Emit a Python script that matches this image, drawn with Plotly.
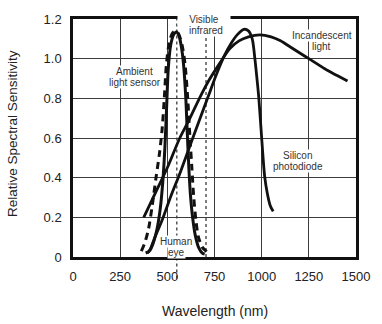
import plotly.graph_objects as go

# ---------------- data ----------------
X_TICKS = [0, 250, 500, 750, 1000, 1250, 1500]
Y_TICKS = [0, 0.2, 0.4, 0.6, 0.8, 1.0, 1.2]
Y_TICK_TEXT = ["0", "0.2", "0.4", "0.6", "0.8", "1.0", "1.2"]

HUMAN_EYE_NM = [385, 405, 425, 445, 462, 476, 487, 496, 505, 518, 533, 548,
                562, 576, 586, 598, 606, 614, 622, 634, 648, 665, 685, 698]
HUMAN_EYE = [0.02, 0.03, 0.07, 0.14, 0.24, 0.38, 0.55, 0.75, 0.95, 1.07, 1.12, 1.135,
             1.115, 1.05, 0.97, 0.80, 0.62, 0.45, 0.32, 0.20, 0.11, 0.05, 0.02, 0.015]

AMBIENT_NM = [362, 380, 400, 420, 440, 458, 472, 484, 495, 510, 528, 545,
              562, 580, 594, 608, 620, 630, 640, 652, 665, 685, 705, 715]
AMBIENT = [0.03, 0.07, 0.14, 0.26, 0.40, 0.52, 0.64, 0.80, 0.97, 1.08, 1.13, 1.14,
           1.12, 1.06, 0.97, 0.80, 0.60, 0.45, 0.30, 0.18, 0.10, 0.05, 0.03, 0.02]

INCANDESCENT_NM = [375, 450, 500, 566, 620, 670, 720, 780, 830, 880, 930, 990,
                   1050, 1100, 1150, 1200, 1250, 1300, 1350, 1400, 1455]
INCANDESCENT = [0.20, 0.35, 0.45, 0.60, 0.70, 0.80, 0.89, 0.98, 1.05, 1.09, 1.11, 1.12,
                1.11, 1.09, 1.06, 1.03, 1.00, 0.97, 0.94, 0.915, 0.887]

SILICON_NM = [395, 410, 430, 470, 520, 570, 635, 713, 760, 800, 840, 870, 905,
              930, 950, 964, 975, 985, 1000, 1016, 1030, 1045, 1061]
SILICON = [0.02, 0.04, 0.09, 0.18, 0.31, 0.43, 0.60, 0.80, 0.92, 1.01, 1.08, 1.12, 1.148,
           1.14, 1.10, 1.00, 0.90, 0.80, 0.60, 0.405, 0.32, 0.26, 0.23]

PHOTOPIC_PEAK = 550
VISIBLE_IR_EDGE = 705
X_MAX = 1500
Y_MAX = 1.2

FONT = "Liberation Sans, Arial, Helvetica, sans-serif"
TXT = "#333333"
LINE = "#111111"

fig = go.Figure()

fig.add_trace(go.Scatter(x=INCANDESCENT_NM, y=INCANDESCENT, mode="lines",
                         line=dict(color=LINE, width=2.8, shape="spline", smoothing=0.8),
                         showlegend=False, hoverinfo="skip"))
fig.add_trace(go.Scatter(x=SILICON_NM, y=SILICON, mode="lines",
                         line=dict(color=LINE, width=2.8, shape="spline", smoothing=0.8),
                         showlegend=False, hoverinfo="skip"))
fig.add_trace(go.Scatter(x=AMBIENT_NM, y=AMBIENT, mode="lines",
                         line=dict(color=LINE, width=3, dash="7px,5px", shape="spline", smoothing=0.8),
                         showlegend=False, hoverinfo="skip"))
fig.add_trace(go.Scatter(x=HUMAN_EYE_NM, y=HUMAN_EYE, mode="lines",
                         line=dict(color=LINE, width=3, shape="spline", smoothing=0.8),
                         showlegend=False, hoverinfo="skip"))
# photopic peak marker below the axis
fig.add_trace(go.Scatter(x=[PHOTOPIC_PEAK], y=[-0.17], mode="markers",
                         marker=dict(symbol="triangle-up", size=9, color="#111111"),
                         cliponaxis=False, showlegend=False, hoverinfo="skip"))

# dotted reference lines
fig.add_shape(type="line", xref="paper", yref="paper",
              x0=PHOTOPIC_PEAK / X_MAX, x1=PHOTOPIC_PEAK / X_MAX, y0=-0.09, y1=1,
              line=dict(color="#555555", width=1.5, dash="3px,3px"), layer="below")
fig.add_shape(type="line", xref="x", yref="y",
              x0=VISIBLE_IR_EDGE, x1=VISIBLE_IR_EDGE, y0=0, y1=Y_MAX,
              line=dict(color="#555555", width=1.5, dash="3px,3px"), layer="below")

def label(text, x, y, size=10, width=None):
    fig.add_annotation(text=text, x=x, y=y, xref="x", yref="y", showarrow=False,
                       font=dict(family=FONT, size=size, color=TXT),
                       bgcolor="white", borderpad=0, width=width,
                       xanchor="center", yanchor="middle")

label("Ambient", 327, 0.935)
label("light sensor", 330, 0.878)
label("Visible", 695, 1.198, width=52)
label("infrared", 707, 1.143)
label("Incandescent", 1318, 1.117)
label("light", 1318, 1.06)
label("Silicon", 1191, 0.512)
label("photodiode", 1191, 0.455)
label("Human", 548, 0.08)
label("eye", 548, 0.022)

fig.add_annotation(text="Photopic Peak 550 nm", x=583, y=-0.17, xref="x", yref="y",
                   showarrow=False, xanchor="left", yanchor="middle",
                   font=dict(family=FONT, size=9.5, color=TXT))

# axis titles
fig.add_annotation(text="Wavelength (nm)", x=0.5, y=0, xref="paper", yref="paper",
                   showarrow=False, xanchor="center", yanchor="middle", yshift=-54,
                   font=dict(family=FONT, size=14, color="#222222"))
fig.add_annotation(text="Relative Spectral Sensitivity", x=0, y=0.5, xref="paper", yref="paper",
                   showarrow=False, xanchor="center", yanchor="middle", xshift=-61, yshift=4,
                   textangle=-90, font=dict(family=FONT, size=13.5, color="#222222"))

axis_common = dict(showgrid=True, gridcolor="#3c3c3c", gridwidth=1.2, zeroline=False,
                   showline=True, linecolor="#111111", linewidth=2.5, mirror=True,
                   ticks="outside", ticklen=6, tickcolor="rgba(0,0,0,0)",
                   tickfont=dict(family=FONT, size=13, color="#222222"))

fig.update_xaxes(range=[0, X_MAX], tickvals=X_TICKS, **axis_common)
fig.update_yaxes(range=[0, Y_MAX], tickvals=Y_TICKS, ticktext=Y_TICK_TEXT, **axis_common)

fig.update_layout(width=382, height=324, margin=dict(l=73, r=21, t=14, b=67),
                  plot_bgcolor="white", paper_bgcolor="white", showlegend=False)

fig.write_html("out.html")
